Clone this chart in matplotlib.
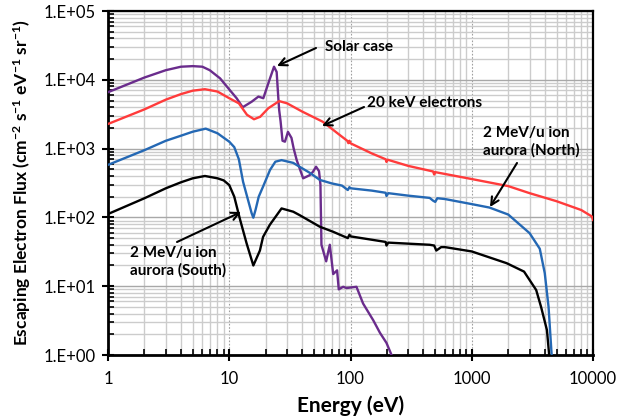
import matplotlib
matplotlib.use("Agg")
import matplotlib.pyplot as plt
from matplotlib.ticker import FixedLocator, FixedFormatter, LogLocator, NullFormatter

# ---------------- data ----------------
x_ticks = [1, 10, 100, 1000, 10000]
x_tick_labels = ['1', '10', '100', '1000', '10000']
y_ticks = [1, 10, 100, 1000, 10000, 100000]
y_tick_labels = ['1.E+00', '1.E+01', '1.E+02', '1.E+03', '1.E+04', '1.E+05']

# 20 keV electrons (red)
red_E = [1, 2, 3, 4, 5, 6.3, 8, 10, 12, 14, 16, 18, 21, 25.8, 30, 40, 59, 81,
         94, 96, 98, 100, 150, 195, 198, 202, 300, 480, 490, 500, 1000, 2000,
         3000, 5000, 8000, 9800, 10000]
red_F = [2280, 3720, 5150, 6200, 6950, 7300, 6750, 5400, 4550, 3100, 2670, 2900,
         3860, 4900, 4550, 3450, 2460, 1590, 1300, 1200, 1300, 1195, 850, 700,
         640, 690, 560, 465, 420, 455, 361, 285, 225, 172, 128, 103, 92]

# 2 MeV/u ion aurora (North) (blue)
blue_E = [1, 2, 3, 4, 5, 6.4, 8, 10, 11, 12, 13, 14.3, 15.3, 15.8, 16.5, 17.5,
          19, 21.7, 24, 27, 33.7, 38, 46, 56, 70, 85, 95, 98, 100, 150, 195,
          198, 205, 300, 450, 480, 500, 520, 600, 1000, 1400, 2000, 2200, 3000,
          3640, 4000, 4300, 4560, 4700]
blue_F = [580, 950, 1300, 1540, 1760, 1950, 1670, 1260, 1050, 700, 330, 178,
          115, 99, 130, 200, 280, 490, 645, 680, 620, 545, 446, 350, 312, 290,
          250, 275, 265, 245, 228, 205, 225, 207, 192, 175, 168, 190, 185, 156,
          139, 110, 95, 59, 35, 15.5, 5, 1, 0.5]

# 2 MeV/u ion aurora (South) (black)
black_E = [1, 2, 3, 4, 5, 6.3, 8, 9, 10, 11, 11.7, 12.3, 13.9, 15.8, 17.9, 19,
           21.6, 27, 33.7, 38, 56, 71.6, 95, 98, 100, 195, 198, 205, 450, 490,
           510, 560, 600, 1000, 1940, 2700, 3400, 3730, 4170, 4350, 4450]
black_F = [112, 190, 265, 324, 370, 400, 370, 345, 295, 200, 130, 92, 42, 20, 33,
           52, 78, 135, 121, 108, 73, 62, 50, 56, 53, 44, 39, 43, 40, 39, 33,
           37, 37, 32, 21.6, 16.3, 8.8, 5, 2.3, 1, 0.5]

# Solar case (purple)
purple_E = [1, 2, 3, 4, 5, 6, 6.9, 8.4, 10.1, 11.5, 12.9, 15.3, 17.4, 19.1, 21,
            23.4, 24.6, 25.3, 25.8, 26.5, 27.5, 28.8, 30.5, 32.6, 34, 36, 40.7,
            46, 49, 52, 55, 56.5, 57.6, 63, 67.5, 72, 77.5, 80, 87, 92.6, 112,
            127, 154, 175, 198, 218, 230]
purple_F = [6600, 10800, 13800, 15500, 15800, 15500, 13800, 10500, 7100, 5400,
            3990, 4800, 5700, 5400, 8900, 15500, 13000, 6000, 3640, 2500, 1300,
            1260, 1750, 1430, 1000, 680, 370, 410, 460, 545, 470, 300, 40, 23,
            40, 15, 17, 9, 9.8, 9.4, 9.8, 5.6, 3.2, 2.1, 1.5, 1.0, 0.8]

# ---------------- style ----------------
plt.rcParams['font.family'] = ['Lato', 'DejaVu Sans']
plt.rcParams['mathtext.fontset'] = 'custom'
plt.rcParams['mathtext.rm'] = 'Lato:bold'
plt.rcParams['mathtext.it'] = 'Lato:bold'
plt.rcParams['mathtext.bf'] = 'Lato:bold'
plt.rcParams['mathtext.default'] = 'bf'

fig = plt.figure(figsize=(6.17, 4.18), dpi=100)
L, R, T, B = 108, 593, 11, 355
ax = fig.add_axes([L/617, 1-B/418, (R-L)/617, (B-T)/418])


def P(px, py):
    """pixel position in the figure -> axes fraction (for annotation layout)"""
    return ((px - L) / (R - L), (B - py) / (B - T))


ax.set_xscale('log')
ax.set_yscale('log')
ax.set_xlim(1, 10000)
ax.set_ylim(1, 100000)

# grid
ax.xaxis.set_minor_locator(LogLocator(base=10, subs=range(2, 10)))
ax.yaxis.set_minor_locator(LogLocator(base=10, subs=range(2, 10)))
ax.xaxis.set_minor_formatter(NullFormatter())
ax.yaxis.set_minor_formatter(NullFormatter())
ax.grid(True, which='minor', axis='both', color='#cccccc', lw=1.0, zorder=0)
ax.grid(True, which='major', axis='y', color='#a8a8a8', lw=1.0, zorder=0)
ax.grid(True, which='major', axis='x', color='#a0a0a0', lw=0.8, ls=(0, (1.5, 1.5)), zorder=0)
ax.set_axisbelow(True)

ax.plot(purple_E, purple_F, color='#6a2c8c', lw=1.7, zorder=3)
ax.plot(red_E, red_F, color='#ff3b3b', lw=1.7, zorder=3)
ax.plot(blue_E, blue_F, color='#2468b4', lw=1.7, zorder=3)
ax.plot(black_E, black_F, color='black', lw=1.7, zorder=3)

ax.xaxis.set_major_locator(FixedLocator(x_ticks))
ax.xaxis.set_major_formatter(FixedFormatter(x_tick_labels))
ax.yaxis.set_major_locator(FixedLocator(y_ticks))
ax.yaxis.set_major_formatter(FixedFormatter(y_tick_labels))

ax.tick_params(which='major', direction='inout', length=9, width=1.5, labelsize=12,
               top=False, right=False)
ax.tick_params(axis='x', which='major', pad=7)
ax.tick_params(axis='y', which='major', pad=4)
ax.tick_params(which='minor', direction='in', length=4, width=1.2, top=False, right=False)

for s in ['left', 'bottom']:
    ax.spines[s].set_linewidth(2.0)
for s in ['top', 'right']:
    ax.spines[s].set_linewidth(1.6)

ax.set_xlabel('Energy (eV)', fontsize=15, fontweight='bold', labelpad=6)
ax.set_ylabel(r'Escaping Electron Flux (cm$^{-2}$ s$^{-1}$ eV$^{-1}$ sr$^{-1}$)',
              fontsize=12.5, fontweight='bold', labelpad=8)

arrow = dict(arrowstyle='->', color='black', lw=1.5, mutation_scale=14,
             shrinkA=0, shrinkB=0)
tkw = dict(fontsize=11, fontweight='bold', ha='left', va='center',
           xycoords='axes fraction', textcoords='axes fraction')

ax.annotate('', xy=P(277, 66), xytext=P(316, 48), arrowprops=arrow,
            xycoords='axes fraction', textcoords='axes fraction')
ax.annotate('Solar case', xy=P(325, 47), **tkw)

ax.annotate('', xy=P(322, 126), xytext=P(364, 107), arrowprops=arrow,
            xycoords='axes fraction', textcoords='axes fraction')
ax.annotate('20 keV electrons', xy=P(367, 103), **tkw)

ax.annotate('', xy=P(490, 207), xytext=P(517, 163), arrowprops=arrow,
            xycoords='axes fraction', textcoords='axes fraction')
ax.annotate('2 MeV/u ion\naurora (North)', xy=P(483, 142), linespacing=1.25, **tkw)

ax.annotate('', xy=P(241, 212), xytext=P(177, 242), arrowprops=arrow,
            xycoords='axes fraction', textcoords='axes fraction')
ax.annotate('2 MeV/u ion\naurora (South)', xy=P(130, 262), linespacing=1.25, **tkw)

fig.savefig('out.png', dpi=100)
